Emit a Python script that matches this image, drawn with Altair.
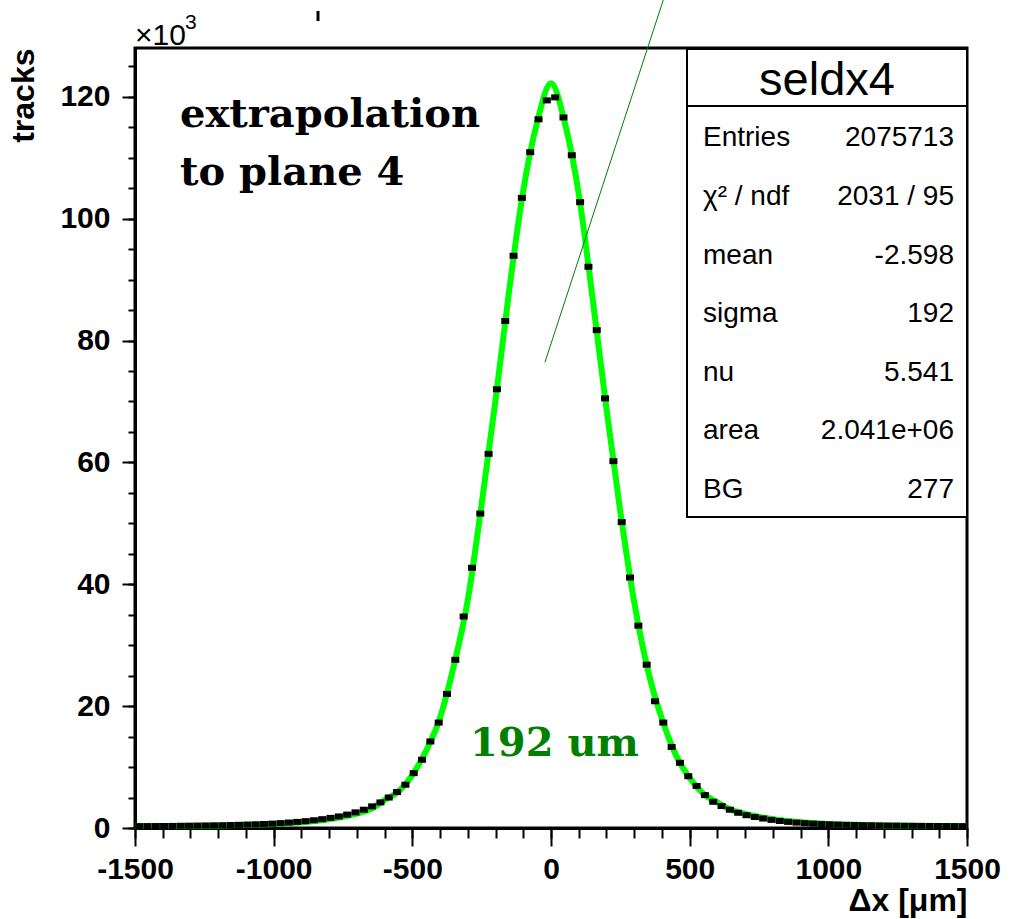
import altair as alt
import pandas as pd

# Histogram of the track residuals: bin centres (um) and counts (x1000 tracks)
BIN_CENTERS = list(range(-1485, 1486, 30))
TRACKS_K = [
    0.30, 0.31, 0.32, 0.33, 0.34, 0.36, 0.37, 0.39, 0.41, 0.43,
    0.45, 0.48, 0.52, 0.56, 0.60, 0.66, 0.72, 0.80, 0.90, 1.00,
    1.12, 1.27, 1.45, 1.66, 1.90, 2.20, 2.57, 3.00, 3.55, 4.20,
    5.00, 5.90, 7.10, 9.00, 11.2, 14.2, 17.3, 22.0, 27.6, 34.7,
    42.7, 51.6, 61.4, 72.0, 83.2, 93.9, 103.4, 110.9, 116.3, 119.4,
    119.9, 116.6, 110.4, 102.7, 92.1, 81.7, 70.5, 60.2, 50.2, 41.1,
    33.2, 26.8, 20.8, 17.3, 13.3, 10.7, 8.50, 6.90, 5.40, 4.30,
    3.60, 3.00, 2.50, 2.10, 1.80, 1.55, 1.33, 1.15, 1.00, 0.88,
    0.79, 0.71, 0.65, 0.60, 0.56, 0.52, 0.49, 0.46, 0.44, 0.42,
    0.40, 0.39, 0.37, 0.36, 0.35, 0.34, 0.33, 0.32, 0.31, 0.30,
]

# Fitted curve sampled along the axis
FIT_X = [-1500, -1400, -1300, -1200, -1100, -1000, -900, -800, -700, -650,
         -600, -550, -500, -450, -400, -350, -300, -250, -200, -150,
         -100, -50, 0, 50, 100, 150, 200, 250, 300, 350,
         400, 450, 500, 550, 600, 650, 700, 800, 900, 1000,
         1100, 1200, 1300, 1400, 1500]
FIT_K = [0.31, 0.33, 0.37, 0.42, 0.52, 0.67, 0.95, 1.45, 2.35, 3.10,
         4.60, 6.00, 8.70, 12.7, 18.1, 26.7, 37.4, 53.2, 70.2, 88.5,
         104.6, 115.8, 122.2, 115.7, 104.1, 86.9, 68.8, 51.9, 37.1, 25.8,
         17.9, 12.0, 8.20, 5.60, 4.20, 3.00, 2.30, 1.45, 0.95, 0.67,
         0.52, 0.42, 0.37, 0.33, 0.31]

# Thin pointer line, from the curve's centre up past the frame
GUIDE_X = [-22, 405]
GUIDE_K = [76.4, 135.9]

STAT_TITLE = "seldx4"
STAT_LABELS = ["Entries", "χ² / ndf", "mean", "sigma", "nu", "area", "BG"]
STAT_VALUES = ["2075713", "2031 / 95", "-2.598", "192", "5.541", "2.041e+06", "277"]

X_MAJOR = [-1500, -1000, -500, 0, 500, 1000, 1500]
X_MINOR = list(range(-1500, 1501, 100))
Y_MAJOR = list(range(0, 121, 20))
Y_MINOR = list(range(0, 126, 5))

SANS = "Liberation Sans"
SERIF = "DejaVu Serif"
W, H = 832, 780

hist = pd.DataFrame({"dx": BIN_CENTERS, "tracks": TRACKS_K})
fit = pd.DataFrame({"dx": FIT_X, "tracks": FIT_K})
guide = pd.DataFrame({"dx": GUIDE_X, "tracks": GUIDE_K})
one = pd.DataFrame({"k": [0]})

xs = alt.Scale(domain=[-1500, 1500], nice=False, zero=False)
ys = alt.Scale(domain=[0, 128], nice=False, zero=True)

x_major = alt.Axis(
    orient="bottom", values=X_MAJOR, tickSize=18, tickWidth=2, tickColor="black",
    domainWidth=3, domainColor="black", grid=False,
    labelFont=SANS, labelFontSize=30, labelFontWeight="bold", labelColor="black",
    labelPadding=8, labelFlush=False, labelOverlap=False,
    labelExpr="toString(datum.value)",
    title="Δx [μm]", titleFont=SANS, titleFontSize=32, titleFontWeight="bold",
    titleColor="black", titleX=W, titleY=82, titleAlign="right",
    titleBaseline="alphabetic",
)
y_major = alt.Axis(
    orient="left", values=Y_MAJOR, tickSize=13, tickWidth=2, tickColor="black",
    domainWidth=3, domainColor="black", grid=False,
    labelFont=SANS, labelFontSize=30, labelFontWeight="bold", labelColor="black",
    labelPadding=12, labelFlush=False, labelOverlap=False,
    labelExpr="toString(datum.value)",
    title="tracks", titleFont=SANS, titleFontSize=32, titleFontWeight="bold",
    titleColor="black", titleAngle=270, titleX=-102, titleY=0,
    titleAlign="right", titleBaseline="alphabetic",
)
x_minor = alt.Axis(orient="bottom", values=X_MINOR, tickSize=10, tickWidth=2,
                   tickColor="black", domain=False, labels=False, grid=False, title=None)
y_minor = alt.Axis(orient="left", values=Y_MINOR, tickSize=7, tickWidth=2,
                   tickColor="black", domain=False, labels=False, grid=False, title=None)

fit_line = alt.Chart(fit).mark_line(color="#00ff00", strokeWidth=6, interpolate="monotone").encode(
    x=alt.X("dx:Q", scale=xs, axis=x_minor),
    y=alt.Y("tracks:Q", scale=ys, axis=y_minor),
)

points = alt.Chart(hist).mark_point(
    shape="M-1,-0.75L1,-0.75L1,0.75L-1,0.75Z", size=64, filled=True,
    color="black", opacity=1,
).encode(
    x=alt.X("dx:Q", scale=xs, axis=x_major),
    y=alt.Y("tracks:Q", scale=ys, axis=y_major),
)

guide_line = alt.Chart(guide).mark_line(color="#008000", strokeWidth=1).encode(
    x=alt.X("dx:Q", scale=xs, axis=None),
    y=alt.Y("tracks:Q", scale=ys, axis=None),
)

# Stats panel
box = alt.Chart(one).mark_rect(fill="white", stroke="black", strokeWidth=2).encode(
    x=alt.value(552), x2=alt.value(832), y=alt.value(1), y2=alt.value(469)
)
sep = alt.Chart(one).mark_rule(color="black", strokeWidth=2).encode(
    x=alt.value(552), x2=alt.value(832), y=alt.value(58)
)
panel = [box, sep,
         alt.Chart(one).mark_text(text=STAT_TITLE, font=SANS, fontSize=47, align="center",
                                  baseline="alphabetic", color="black").encode(
             x=alt.value(692), y=alt.value(47))]
for i, (lab, val) in enumerate(zip(STAT_LABELS, STAT_VALUES)):
    yy = 90.3 + i * 58.6
    panel.append(alt.Chart(one).mark_text(text=lab, font=SANS, fontSize=28, align="left",
                                          baseline="middle", color="black").encode(
        x=alt.value(568), y=alt.value(yy)))
    panel.append(alt.Chart(one).mark_text(text=val, font=SANS, fontSize=28, align="right",
                                          baseline="middle", color="black").encode(
        x=alt.value(819), y=alt.value(yy)))

# Annotations
label = alt.Chart(one).mark_text(
    text=["extrapolation", "to plane 4"], font=SERIF, fontWeight="bold", fontSize=40,
    lineHeight=58, align="left", baseline="alphabetic", color="black",
).encode(x=alt.value(45), y=alt.value(79))
width_note = alt.Chart(one).mark_text(
    text="192 um", font=SERIF, fontWeight="bold", fontSize=40,
    align="left", baseline="alphabetic", color="#008000",
).encode(x=alt.value(335), y=alt.value(708))
exp_base = alt.Chart(one).mark_text(
    text="×10", font=SANS, fontSize=30, align="left", baseline="alphabetic", color="black",
).encode(x=alt.value(0), y=alt.value(-3))
exp_sup = alt.Chart(one).mark_text(
    text="3", font=SANS, fontSize=21, align="left", baseline="alphabetic", color="black",
).encode(x=alt.value(50), y=alt.value(-19))
stub = alt.Chart(one).mark_rule(color="black", strokeWidth=3).encode(
    x=alt.value(183), y=alt.value(-37), y2=alt.value(-27)
)

chart = alt.layer(
    fit_line, points, guide_line, *panel, label, width_note, exp_base, exp_sup, stub,
).resolve_axis(x="independent", y="independent").properties(
    width=W, height=H,
    autosize=alt.AutoSizeParams(type="none"),
    padding={"left": 135, "top": 48, "right": 44, "bottom": 91},
    background="white",
).configure_view(stroke="black", strokeWidth=3)

chart.save("out.html", embed_options={"renderer": "svg", "actions": False})
